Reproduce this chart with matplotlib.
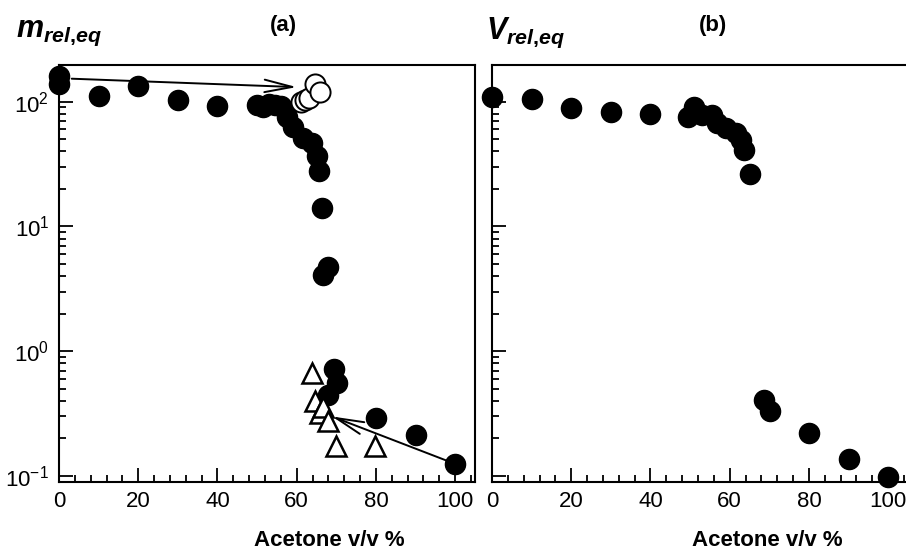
"""
plot.py -- relative mass (a) and volume (b) at equilibrium vs acetone content
"""
import matplotlib
matplotlib.use("Agg")
import matplotlib.pyplot as plt
from matplotlib.ticker import LogLocator, MultipleLocator, NullFormatter

plt.rcParams["font.family"] = ["Liberation Sans", "DejaVu Sans"]
plt.rcParams["mathtext.fontset"] = "custom"
plt.rcParams["mathtext.rm"] = "Liberation Sans"
plt.rcParams["mathtext.it"] = "Liberation Sans:italic:bold"
plt.rcParams["mathtext.bf"] = "Liberation Sans:bold"
plt.rcParams["axes.unicode_minus"] = False

# ---------- data ----------
# panel (a): filled circles
a_x = [0, 0, 10, 20, 30, 40, 50, 51.6, 53, 54.5, 56, 57.5, 59, 61.7, 63.8,
       65, 65.7, 66.3, 66.7, 68, 68, 69.3, 70.1, 80, 90, 100]
a_y = [160, 140, 112, 134, 104, 92, 95, 90, 96, 95, 92, 76, 63, 51, 47,
       36.5, 27.7, 14.1, 4.05, 4.7, 0.45, 0.72, 0.56, 0.29, 0.214, 0.125]
# panel (a): open circles
ao_x = [61, 62, 63, 64.5, 66]
ao_y = [100, 103, 107, 140, 120]
# panel (a): open triangles
at_x = [63.8, 64.6, 65.9, 66.7, 68, 70, 79.8]
at_y = [0.67, 0.40, 0.32, 0.36, 0.277, 0.175, 0.175]
# arrows: (start, tip)
arrows_a = [((3.2, 153), (60, 131)), ((100, 0.125), (68.9, 0.30))]

# panel (b): filled circles
b_x = [0, 10, 20, 30, 40, 49.5, 51, 53, 55.5, 56.9, 59, 61.5, 62.8, 63.6, 65,
       68.7, 70.1, 80, 90, 100]
b_y = [109, 106, 89, 82, 80, 76, 90.6, 79, 79, 67.5, 61.6, 56, 49.7, 41, 26.4,
       0.41, 0.333, 0.22, 0.137, 0.098]

XLIM = (0, 105)
YLIM = (0.090, 197)
X_TICKS = [0, 20, 40, 60, 80, 100]

# ---------- figure ----------
W, H = 906, 554
fig = plt.figure(figsize=(W / 100, H / 100), dpi=100)

ax_a = fig.add_axes([59 / W, 72.3 / H, 416 / W, 416.7 / H])
ax_b = fig.add_axes([492 / W, 72.3 / H, 416 / W, 416.7 / H])

for ax in (ax_a, ax_b):
    ax.set_yscale("log")
    ax.set_xlim(*XLIM)
    ax.set_ylim(*YLIM)
    ax.set_xticks(X_TICKS)
    ax.xaxis.set_minor_locator(MultipleLocator(4))
    ax.yaxis.set_major_locator(LogLocator(base=10, numticks=10))
    ax.yaxis.set_minor_locator(LogLocator(base=10, subs=range(2, 10), numticks=50))
    ax.yaxis.set_minor_formatter(NullFormatter())
    ax.tick_params(which="both", direction="in", top=False, right=False,
                   width=1.3, labelsize=16, pad=7)
    ax.tick_params(which="major", length=10)
    ax.tick_params(which="minor", length=5)
    for s in ax.spines.values():
        s.set_linewidth(1.5)

ax_b.spines["right"].set_visible(False)
ax_b.tick_params(axis="y", labelleft=False)

# panel (a)
ax_a.plot(a_x, a_y, "o", color="black", markersize=14.5, zorder=3,
          clip_on=False)
ax_a.plot(ao_x, ao_y, "o", markerfacecolor="white", markeredgecolor="black",
          markeredgewidth=1.4, markersize=14.5, zorder=4, clip_on=False)
ax_a.plot(at_x, at_y, "^", markerfacecolor="white", markeredgecolor="black",
          markeredgewidth=1.8, markersize=15, zorder=5, clip_on=False)
for (x0, y0), (x1, y1) in arrows_a:
    ax_a.annotate("", xy=(x1, y1), xytext=(x0, y0),
                  arrowprops=dict(arrowstyle="->,head_length=2.0,head_width=0.45",
                                  lw=1.4, color="black",
                                  shrinkA=0, shrinkB=0),
                  zorder=6)

# panel (b)
ax_b.plot(b_x, b_y, "o", color="black", markersize=14.5, zorder=3,
          clip_on=False)

# ---------- texts ----------
fig.text(16 / W, 1 - 33 / H, r"$m_{rel\mathbf{,}eq}$", fontsize=22,
         ha="left", va="center")
fig.text(486 / W, 1 - 33 / H, r"$V_{rel\mathbf{,}eq}$", fontsize=22,
         ha="left", va="center")
fig.text(283 / W, 1 - 25 / H, "(a)", fontsize=16, fontweight="bold",
         ha="center", va="center")
fig.text(713 / W, 1 - 25 / H, "(b)", fontsize=16, fontweight="bold",
         ha="center", va="center")
fig.text(329 / W, 1 - 541 / H, "Acetone v/v %", fontsize=16, fontweight="bold",
         ha="center", va="center")
fig.text(767 / W, 1 - 541 / H, "Acetone v/v %", fontsize=16, fontweight="bold",
         ha="center", va="center")

fig.savefig("out.png", dpi=100)
